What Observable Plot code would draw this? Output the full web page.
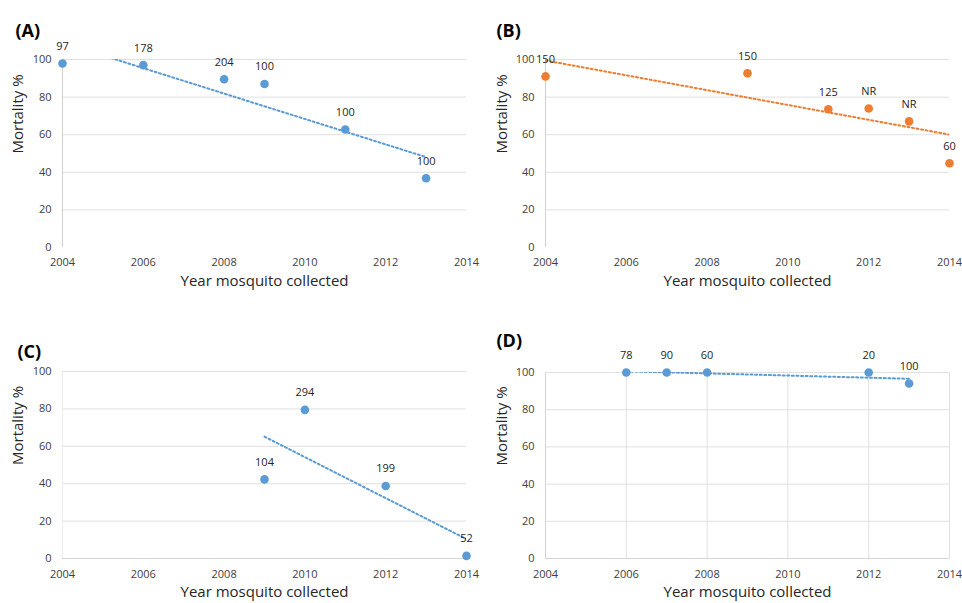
<!DOCTYPE html>
<html>
<head>
<meta charset="utf-8">
<script src="https://cdn.jsdelivr.net/npm/d3@7"></script>
<script src="https://cdn.jsdelivr.net/npm/@observablehq/plot@0.6"></script>
<style>
  html, body { margin: 0; padding: 0; background: #fff; }
  #wrap { position: relative; width: 962px; height: 603px; overflow: hidden; }
  .panel { position: absolute; }
</style>
</head>
<body>
<div id="wrap">
  <div class="panel" id="pA" style="left:0;top:0"></div>
  <div class="panel" id="pB" style="left:481px;top:0"></div>
  <div class="panel" id="pC" style="left:0;top:300px"></div>
  <div class="panel" id="pD" style="left:481px;top:300px"></div>
</div>
<script>
// ---- tick labels ----
const xTicks = [2004, 2006, 2008, 2010, 2012, 2014];
const yTicks = [0, 20, 40, 60, 80, 100];
const xTitle = "Year mosquito collected";
const yTitle = "Mortality %";

// ---- panel A ----
const aYear = [2004, 2006, 2008, 2009, 2011, 2013];
const aMort = [97.9, 97.0, 89.5, 87.0, 62.8, 36.8];
const aN    = ["97", "178", "204", "100", "100", "100"];

// ---- panel B ----
const bYear = [2004, 2009, 2011, 2012, 2013, 2014];
const bMort = [91.0, 92.7, 73.5, 73.9, 67.1, 44.8];
const bN    = ["150", "150", "125", "NR", "NR", "60"];

// ---- panel C ----
const cYear = [2009, 2010, 2012, 2014];
const cMort = [42.3, 79.5, 38.8, 1.4];
const cN    = ["104", "294", "199", "52"];

// ---- panel D ----
const dYear = [2006, 2007, 2008, 2012, 2013];
const dMort = [100, 100, 100, 100, 94.1];
const dN    = ["78", "90", "60", "20", "100"];

const BLUE = "#5B9BD5", ORANGE = "#ED7D31";
const DASH = "2,2.6";

function panel(o) {
  const data = o.year.map((x, i) => ({x, y: o.mort[i], n: o.n[i]}));
  const svg = Plot.plot({
    width: 481,
    height: o.height,
    marginTop: o.mt, marginBottom: o.mb, marginLeft: o.ml, marginRight: o.mr,
    x: {domain: [2004, 2014]},
    y: {domain: [0, 100]},
    style: {fontFamily: "'Open Sans', sans-serif", fontSize: "11px", color: "#404040", background: "#fff", overflow: "visible"},
    marks: [
      Plot.ruleY(o.grid, {stroke: "#e0e0e0", strokeWidth: 1}),
      o.vgrid ? Plot.ruleX(o.vgrid, {stroke: "#e0e0e0", strokeWidth: 1}) : null,
      o.zeroLine ? Plot.ruleY([0], {stroke: "#d4d4d4", strokeWidth: 1}) : null,
      Plot.ruleX([2004], {stroke: o.leftColor, strokeWidth: 1}),
      Plot.axisX({ticks: xTicks, tickSize: 0, tickPadding: o.xpad, tickFormat: d => String(d), label: null, fill: "#404040"}),
      Plot.axisY({ticks: yTicks, tickSize: 0, tickPadding: 11, label: null, fill: "#404040"}),
      Plot.linearRegressionY(data, {x: "x", y: "y", stroke: o.color, strokeWidth: 2, strokeDasharray: DASH, ci: 0, clip: true}),
      Plot.dot(data, {x: "x", y: "y", r: 4.3, fill: o.color}),
      Plot.text(data, {x: "x", y: "y", text: "n", dy: -17, fill: "#262626", fontSize: 11}),
      Plot.text([o.label], {frameAnchor: "top-left", dx: o.ldx, dy: o.ldy, textAnchor: "start", fontWeight: "bold", fontSize: 18, fill: "#000"}),
      Plot.text([xTitle], {frameAnchor: "bottom", dy: 38, fontSize: 15, fill: "#262626"}),
      Plot.text([yTitle], {frameAnchor: "left", dx: o.ydx, rotate: -90, fontSize: 15, fill: "#262626"})
    ]
  });
  d3.select(svg).selectAll('g[aria-label="linear-regression"] path')
    .attr("stroke-dasharray", DASH);
  return svg;
}

document.getElementById("pA").append(panel({
  year: aYear, mort: aMort, n: aN, color: BLUE, label: "(A)",
  height: 300, mt: 59, mb: 53, ml: 62, mr: 15, xpad: 11,
  grid: [20, 40, 60, 80, 100], leftColor: "#d0d0d0", ldx: -47, ldy: -35, ydx: -44
}));
document.getElementById("pB").append(panel({
  year: bYear, mort: bMort, n: bN, color: ORANGE, label: "(B)",
  height: 300, mt: 59, mb: 53, ml: 64, mr: 13, xpad: 11,
  grid: [20, 40, 60, 80, 100], leftColor: "#d0d0d0", ldx: -49, ldy: -35, ydx: -43
}));
document.getElementById("pC").append(panel({
  year: cYear, mort: cMort, n: cN, color: BLUE, label: "(C)",
  height: 303, mt: 71, mb: 45, ml: 62, mr: 15, xpad: 12,
  grid: [20, 40, 60, 80, 100], zeroLine: true, leftColor: "#ececec", ldx: -45, ldy: -26, ydx: -44
}));
document.getElementById("pD").append(panel({
  year: dYear, mort: dMort, n: dN, color: BLUE, label: "(D)",
  height: 303, mt: 72, mb: 45, ml: 64, mr: 13, xpad: 12,
  grid: [20, 40, 60, 80, 100], vgrid: [2006, 2008, 2010, 2012, 2014], zeroLine: true, leftColor: "#d4d4d4", ldx: -49, ldy: -38, ydx: -43
}));
</script>
</body>
</html>
